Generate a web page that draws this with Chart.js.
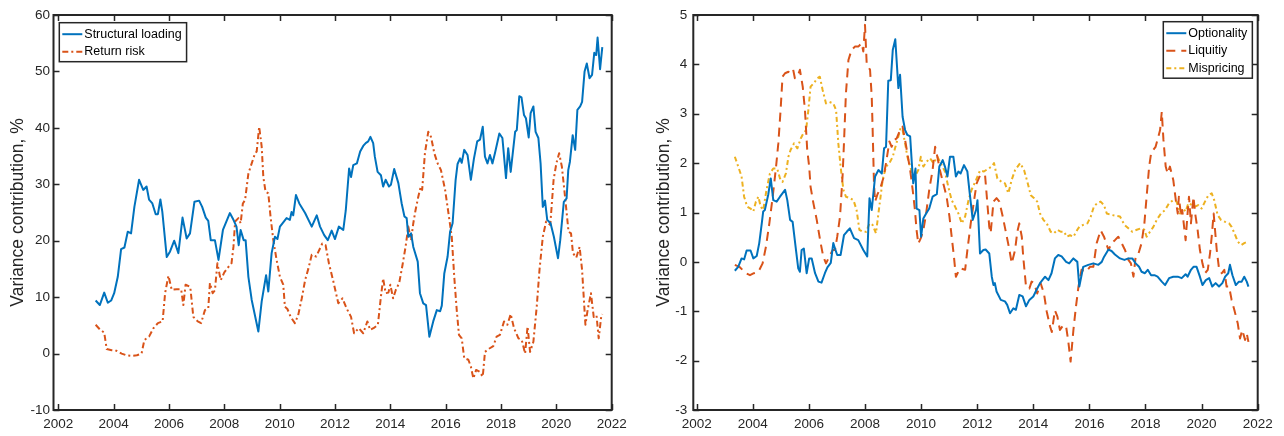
<!DOCTYPE html>
<html>
<head>
<meta charset="utf-8">
<script src="https://cdn.jsdelivr.net/npm/chart.js@4.4.0/dist/chart.umd.min.js"></script>
<style>
  body { margin: 0; background: #fff; }
  #wrap { position: relative; width: 1284px; height: 436px; background: #fff; }
  canvas { position: absolute; top: 0; }
</style>
</head>
<body>
<div id="wrap">
  <canvas id="left" width="642" height="436" style="left:0"></canvas>
  <canvas id="right" width="642" height="436" style="left:642px"></canvas>
</div>
<script>
// tick labels
var xTickLabels = [2002, 2004, 2006, 2008, 2010, 2012, 2014, 2016, 2018, 2020, 2022];
var leftYTicks = [-10, 0, 10, 20, 30, 40, 50, 60];
var rightYTicks = [-3, -2, -1, 0, 1, 2, 3, 4, 5];

// left panel: Structural loading
var slDates = [
  2003.35,2003.50,2003.66,2003.79,2003.91,2004.02,2004.15,2004.27,2004.39,2004.51,
  2004.63,2004.75,2004.92,2005.07,2005.19,2005.28,2005.40,2005.52,2005.60,2005.69,
  2005.76,2005.92,2006.04,2006.19,2006.34,2006.49,2006.64,2006.76,2006.92,2007.09,
  2007.20,2007.33,2007.42,2007.51,2007.66,2007.79,2007.95,2008.20,2008.33,2008.44,
  2008.52,2008.59,2008.70,2008.77,2008.87,2008.99,2009.23,2009.35,2009.51,2009.59,
  2009.71,2009.83,2009.92,2010.01,2010.25,2010.37,2010.43,2010.49,2010.59,2010.71,
  2010.92,2011.16,2011.34,2011.46,2011.61,2011.74,2011.88,2012.00,2012.14,2012.30,
  2012.39,2012.51,2012.58,2012.66,2012.79,2012.91,2013.02,2013.11,2013.20,2013.28,
  2013.38,2013.44,2013.54,2013.66,2013.74,2013.83,2013.95,2014.02,2014.14,2014.29,
  2014.41,2014.51,2014.59,2014.65,2014.75,2014.83,2014.99,2015.07,2015.19,2015.29,
  2015.41,2015.55,2015.68,2015.80,2015.86,2015.95,2016.07,2016.16,2016.25,2016.36,
  2016.43,2016.52,2016.58,2016.67,2016.79,2016.91,2017.02,2017.14,2017.24,2017.34,
  2017.42,2017.51,2017.60,2017.69,2017.78,2017.94,2018.05,2018.18,2018.26,2018.35,
  2018.51,2018.57,2018.66,2018.74,2018.83,2018.90,2019.00,2019.07,2019.17,2019.25,
  2019.35,2019.43,2019.51,2019.59,2019.67,2019.79,2019.91,2020.06,2020.14,2020.27,
  2020.37,2020.43,2020.49,2020.59,2020.68,2020.76,2020.86,2020.93,2021.02,2021.10,
  2021.20,2021.29,2021.37,2021.44,2021.49,2021.58,2021.66];
var slValues = [
  9.4,8.6,10.8,9.0,9.4,10.7,13.6,18.5,18.8,21.6,
  21.3,26.0,30.8,29.0,29.6,27.3,26.6,24.7,24.7,27.3,
  25.1,17.1,18.1,20.0,17.8,24.1,20.4,21.3,26.9,27.1,
  26.0,24.1,23.5,20.1,20.1,16.6,21.9,24.9,23.7,22.5,
  19.2,21.9,20.1,20.1,13.6,9.5,3.9,9.2,13.9,11.0,
  17.8,20.7,20.3,22.5,24.0,23.7,25.1,24.5,28.1,26.6,
  24.9,22.5,24.5,22.5,21.0,20.1,21.8,20.3,22.5,21.9,
  25.4,32.8,31.3,33.4,33.7,35.8,36.8,37.3,37.6,38.4,
  37.3,34.9,32.2,31.6,29.6,30.8,29.6,29.9,32.7,30.2,
  26.6,24.3,24.0,20.7,21.3,18.9,16.3,10.7,8.9,8.6,
  3.0,5.7,7.7,7.5,8.5,14.2,17.2,21.6,23.1,30.8,
  33.6,34.6,33.8,36.1,35.2,30.8,34.5,37.6,37.9,40.2,
  34.9,33.7,35.2,33.7,35.5,39.0,38.2,31.1,36.4,32.2,
  39.3,39.6,45.6,45.4,42.3,41.7,38.3,42.6,43.8,39.3,
  38.2,33.7,26.0,27.1,23.7,23.1,20.7,16.9,20.1,26.9,
  27.5,32.5,34.0,38.7,36.1,43.2,43.8,44.6,50.0,51.4,
  48.8,49.4,53.3,52.9,56.0,50.4,54.3];

// left panel: Return risk
var rrDates = [
  2003.35,2003.50,2003.66,2003.75,2003.93,2004.10,2004.29,2004.46,2004.65,2004.84,
  2005.01,2005.11,2005.28,2005.44,2005.60,2005.77,2005.86,2005.98,2006.10,2006.28,
  2006.44,2006.52,2006.60,2006.77,2006.88,2007.04,2007.16,2007.30,2007.42,2007.48,
  2007.58,2007.66,2007.75,2007.87,2008.00,2008.14,2008.26,2008.33,2008.39,2008.51,
  2008.59,2008.67,2008.75,2008.87,2008.99,2009.11,2009.17,2009.26,2009.35,2009.41,
  2009.49,2009.59,2009.67,2009.77,2009.89,2010.01,2010.13,2010.19,2010.28,2010.40,
  2010.55,2010.67,2010.80,2010.92,2011.04,2011.16,2011.32,2011.54,2011.66,2011.78,
  2011.94,2012.12,2012.27,2012.42,2012.58,2012.69,2012.86,2013.02,2013.17,2013.27,
  2013.39,2013.55,2013.66,2013.74,2013.83,2013.93,2014.00,2014.10,2014.20,2014.32,
  2014.44,2014.55,2014.65,2014.75,2014.83,2014.91,2015.01,2015.10,2015.15,2015.25,
  2015.37,2015.47,2015.59,2015.71,2015.83,2015.98,2016.10,2016.22,2016.31,2016.40,
  2016.48,2016.58,2016.67,2016.82,2016.91,2017.00,2017.10,2017.22,2017.34,2017.42,
  2017.58,2017.72,2017.84,2017.96,2018.11,2018.23,2018.35,2018.47,2018.63,2018.75,
  2018.87,2018.96,2019.05,2019.17,2019.29,2019.39,2019.51,2019.63,2019.78,2019.90,
  2020.00,2020.10,2020.20,2020.32,2020.44,2020.53,2020.60,2020.72,2020.84,2020.93,
  2021.05,2021.13,2021.25,2021.35,2021.45,2021.53,2021.62,2021.66];
var rrValues = [
  5.1,4.3,3.7,0.8,0.6,0.5,0.0,-0.3,-0.4,-0.3,
  0.0,2.4,3.0,4.5,5.4,5.7,10.7,13.8,11.3,11.4,
  11.4,8.6,12.2,11.8,6.5,5.7,5.4,7.7,8.0,12.5,
  10.7,11.2,16.0,13.0,14.4,15.3,16.0,18.9,23.4,24.0,
  23.1,26.6,27.2,31.9,33.7,35.5,35.8,40.2,36.7,31.3,
  28.7,28.4,24.3,20.1,16.6,13.6,12.2,8.3,7.9,6.5,
  5.4,6.8,9.8,13.0,15.1,17.5,17.2,19.5,19.2,16.0,
  12.8,8.9,9.8,8.0,6.5,3.6,4.5,3.6,5.7,4.2,
  4.5,5.1,10.1,13.3,10.7,10.8,12.2,9.8,11.3,12.5,
  15.7,18.9,22.5,20.1,23.1,25.4,27.8,29.6,29.0,35.5,
  39.3,38.4,35.5,33.7,32.5,29.0,24.9,20.7,13.6,7.7,
  3.3,2.7,-0.8,-1.1,-2.3,-4.4,-2.9,-3.2,-4.1,0.3,
  0.9,1.3,3.0,3.3,5.7,5.1,7.0,4.5,2.7,2.4,
  0.0,4.8,0.3,2.1,8.3,14.8,20.7,23.4,22.8,30.8,
  33.7,35.5,33.1,27.5,21.6,21.3,17.8,17.0,18.9,14.8,
  5.1,7.7,10.7,6.5,6.8,2.7,6.5,7.0];

// right panel: Optionality
var opDates = [
  2003.36,2003.48,2003.60,2003.69,2003.78,2003.92,2004.02,2004.14,2004.23,2004.32,
  2004.37,2004.43,2004.55,2004.64,2004.73,2004.85,2004.97,2005.15,2005.23,2005.33,
  2005.42,2005.54,2005.62,2005.68,2005.74,2005.82,2005.92,2006.01,2006.10,2006.22,
  2006.34,2006.45,2006.57,2006.66,2006.78,2006.87,2006.93,2007.01,2007.13,2007.25,
  2007.35,2007.46,2007.61,2007.76,2007.94,2008.08,2008.16,2008.24,2008.36,2008.48,
  2008.60,2008.68,2008.75,2008.83,2008.92,2008.99,2009.08,2009.19,2009.25,2009.34,
  2009.43,2009.51,2009.61,2009.67,2009.72,2009.80,2009.84,2009.94,2010.00,2010.08,
  2010.18,2010.29,2010.41,2010.56,2010.65,2010.77,2010.85,2010.94,2011.03,2011.15,
  2011.24,2011.33,2011.41,2011.53,2011.65,2011.72,2011.84,2011.96,2012.01,2012.10,
  2012.22,2012.30,2012.43,2012.52,2012.58,2012.63,2012.69,2012.84,2012.99,2013.07,
  2013.17,2013.29,2013.38,2013.50,2013.62,2013.74,2013.86,2014.00,2014.14,2014.24,
  2014.42,2014.54,2014.65,2014.77,2014.89,2015.01,2015.17,2015.28,2015.43,2015.57,
  2015.64,2015.78,2015.96,2016.14,2016.32,2016.44,2016.52,2016.68,2016.79,2016.91,
  2017.09,2017.25,2017.39,2017.53,2017.65,2017.77,2017.86,2017.98,2018.08,2018.20,
  2018.32,2018.43,2018.58,2018.70,2018.84,2018.99,2019.15,2019.29,2019.43,2019.50,
  2019.62,2019.71,2019.82,2019.94,2020.03,2020.15,2020.27,2020.38,2020.50,2020.62,
  2020.74,2020.84,2020.95,2021.01,2021.10,2021.22,2021.33,2021.43,2021.52,2021.61,
  2021.67];
var opValues = [
  -0.18,-0.10,0.07,0.05,0.23,0.23,0.07,0.12,0.38,0.78,
  1.02,1.05,1.36,1.69,1.25,1.22,1.32,1.46,1.25,0.85,
  0.81,0.24,-0.13,-0.20,0.24,0.27,-0.23,0.07,0.07,-0.23,
  -0.40,-0.42,-0.23,-0.11,-0.02,0.38,0.27,0.14,0.14,0.54,
  0.61,0.68,0.48,0.44,0.24,0.11,1.29,1.05,1.73,1.86,
  1.79,2.30,2.33,3.67,3.68,4.29,4.51,3.52,3.79,2.94,
  2.67,2.57,2.54,2.00,1.59,1.89,1.08,1.05,0.51,0.88,
  0.98,1.08,1.32,1.37,1.93,2.06,1.93,1.73,2.13,2.13,
  1.73,1.83,1.79,1.96,1.83,1.46,0.85,1.05,1.25,0.17,
  0.24,0.25,0.17,-0.30,-0.47,-0.43,-0.60,-0.77,-0.80,-0.87,
  -1.04,-0.94,-0.97,-0.67,-0.70,-0.90,-0.77,-0.70,-0.54,-0.43,
  -0.30,-0.37,-0.23,0.07,0.14,0.11,0.00,-0.03,0.07,0.00,
  -0.50,-0.10,-0.06,-0.03,-0.06,0.00,0.10,0.25,0.22,0.15,
  0.07,0.04,0.07,0.07,-0.03,-0.10,-0.20,-0.23,-0.16,-0.27,
  -0.27,-0.30,-0.40,-0.47,-0.33,-0.30,-0.30,-0.33,-0.25,-0.30,
  -0.16,-0.10,-0.10,-0.30,-0.47,-0.37,-0.33,-0.50,-0.43,-0.50,
  -0.43,-0.30,-0.23,-0.06,-0.27,-0.47,-0.40,-0.40,-0.30,-0.40,
  -0.50];

// right panel: Liquitiy
var lqDates = [
  2003.36,2003.52,2003.76,2003.90,2004.04,2004.20,2004.35,2004.47,2004.59,2004.71,
  2004.83,2004.91,2004.99,2005.06,2005.15,2005.27,2005.35,2005.44,2005.50,2005.59,
  2005.68,2005.78,2005.86,2005.94,2006.01,2006.06,2006.16,2006.28,2006.40,2006.51,
  2006.61,2006.73,2006.85,2006.93,2007.01,2007.11,2007.20,2007.25,2007.32,2007.41,
  2007.52,2007.64,2007.76,2007.88,2007.94,2008.00,2008.06,2008.12,2008.18,2008.24,
  2008.27,2008.30,2008.32,2008.36,2008.44,2008.56,2008.65,2008.75,2008.87,2008.95,
  2009.04,2009.13,2009.25,2009.34,2009.43,2009.51,2009.61,2009.70,2009.78,2009.84,
  2009.90,2009.99,2010.08,2010.18,2010.29,2010.41,2010.50,2010.58,2010.67,2010.79,
  2010.91,2011.01,2011.09,2011.17,2011.24,2011.39,2011.57,2011.65,2011.77,2011.89,
  2011.98,2012.10,2012.28,2012.43,2012.48,2012.58,2012.69,2012.79,2012.91,2013.03,
  2013.15,2013.23,2013.35,2013.43,2013.50,2013.59,2013.64,2013.74,2013.86,2013.94,
  2014.03,2014.14,2014.26,2014.38,2014.48,2014.60,2014.66,2014.77,2014.86,2014.95,
  2015.07,2015.17,2015.25,2015.33,2015.43,2015.52,2015.61,2015.72,2015.88,2016.02,
  2016.14,2016.26,2016.40,2016.52,2016.68,2016.79,2016.91,2017.03,2017.15,2017.27,
  2017.39,2017.48,2017.57,2017.65,2017.75,2017.86,2017.96,2018.04,2018.13,2018.20,
  2018.28,2018.36,2018.46,2018.52,2018.58,2018.64,2018.72,2018.79,2018.87,2018.99,
  2019.08,2019.15,2019.19,2019.27,2019.31,2019.39,2019.43,2019.50,2019.55,2019.62,
  2019.71,2019.77,2019.86,2019.94,2020.03,2020.12,2020.22,2020.30,2020.36,2020.43,
  2020.48,2020.54,2020.62,2020.72,2020.81,2020.89,2020.98,2021.07,2021.17,2021.29,
  2021.37,2021.45,2021.55,2021.61,2021.67];
var lqValues = [
  -0.06,-0.10,-0.23,-0.27,-0.23,-0.20,-0.03,0.31,0.78,1.32,
  1.93,2.40,3.07,3.75,3.82,3.85,3.82,3.89,3.72,3.75,
  3.89,3.55,3.07,2.27,1.93,1.52,1.19,0.85,0.44,0.11,
  -0.03,0.11,0.24,0.24,0.51,0.92,1.73,2.40,3.41,4.09,
  4.29,4.36,4.36,4.43,4.26,4.80,4.02,3.95,3.89,3.35,
  2.74,2.06,1.59,1.22,1.36,1.52,1.69,2.00,2.44,2.33,
  2.47,2.50,2.67,2.74,2.47,2.20,1.86,1.46,1.05,0.64,
  0.37,0.48,0.64,0.98,1.46,1.86,2.33,2.13,1.86,1.59,
  1.32,0.92,0.51,0.11,-0.30,-0.13,-0.16,0.24,0.78,1.25,
  1.59,1.75,1.76,0.71,0.58,1.22,1.29,1.22,0.92,0.58,
  0.24,-0.03,0.24,0.61,0.78,0.51,0.11,-0.50,-0.54,-0.40,
  -0.43,-0.64,-0.43,-0.64,-1.01,-1.31,-1.42,-0.98,-1.11,-1.38,
  -1.28,-1.31,-1.62,-2.02,-1.38,-0.91,-0.50,-0.16,-0.20,-0.10,
  -0.10,0.38,0.64,0.51,0.24,0.38,0.44,0.51,0.38,0.24,
  0.04,-0.03,-0.30,0.11,0.17,0.38,0.78,1.32,1.93,2.20,
  2.27,2.33,2.54,2.67,3.04,2.47,1.93,1.79,1.93,1.66,
  1.25,0.98,1.32,0.92,1.05,0.64,0.44,0.98,1.32,0.78,
  1.32,0.98,0.64,0.24,-0.03,-0.23,-0.16,0.17,0.51,0.98,
  0.64,0.24,-0.13,-0.23,-0.16,-0.50,-0.50,-0.77,-0.98,-1.25,
  -1.55,-1.38,-1.58,-1.45,-1.62];

// right panel: Mispricing
var mpDates = [
  2003.36,2003.48,2003.60,2003.69,2003.80,2003.92,2004.02,2004.11,2004.20,2004.28,
  2004.37,2004.49,2004.61,2004.73,2004.87,2004.97,2005.06,2005.18,2005.27,2005.35,
  2005.47,2005.59,2005.71,2005.80,2005.90,2005.98,2006.06,2006.18,2006.30,2006.39,
  2006.49,2006.61,2006.73,2006.87,2006.97,2007.05,2007.13,2007.23,2007.32,2007.46,
  2007.59,2007.70,2007.80,2007.92,2008.04,2008.16,2008.27,2008.39,2008.51,2008.63,
  2008.75,2008.87,2008.99,2009.07,2009.19,2009.27,2009.34,2009.43,2009.51,2009.61,
  2009.70,2009.78,2009.90,2009.99,2010.08,2010.20,2010.32,2010.44,2010.58,2010.70,
  2010.85,2010.97,2011.09,2011.21,2011.33,2011.45,2011.57,2011.69,2011.80,2011.96,
  2012.10,2012.24,2012.40,2012.52,2012.60,2012.72,2012.87,2012.99,2013.11,2013.23,
  2013.35,2013.53,2013.67,2013.79,2013.91,2014.03,2014.14,2014.24,2014.36,2014.48,
  2014.62,2014.74,2014.86,2014.98,2015.10,2015.19,2015.31,2015.43,2015.57,2015.64,
  2015.78,2015.93,2016.05,2016.16,2016.28,2016.40,2016.52,2016.62,2016.79,2016.97,
  2017.09,2017.25,2017.39,2017.53,2017.69,2017.84,2017.96,2018.04,2018.16,2018.28,
  2018.40,2018.55,2018.70,2018.84,2018.99,2019.11,2019.23,2019.35,2019.43,2019.53,
  2019.65,2019.77,2019.88,2020.00,2020.12,2020.24,2020.36,2020.45,2020.57,2020.69,
  2020.84,2020.98,2021.07,2021.17,2021.29,2021.41,2021.52,2021.64];
var mpValues = [
  2.13,1.93,1.73,1.32,1.12,1.08,1.02,1.22,1.32,1.12,
  1.05,1.46,1.79,1.89,1.89,1.69,1.62,1.79,2.13,2.27,
  2.40,2.30,2.50,2.60,2.67,3.07,3.55,3.62,3.72,3.75,
  3.48,3.21,3.24,3.21,3.07,2.40,1.93,1.46,1.32,1.29,
  1.25,1.05,0.65,0.61,0.61,0.78,0.75,0.58,1.12,1.66,
  1.93,2.00,2.13,2.30,2.54,2.71,2.67,2.40,2.13,1.93,
  1.76,1.73,1.86,2.13,1.93,2.03,2.10,2.00,2.13,2.00,
  1.83,1.52,1.25,1.12,0.98,0.78,0.92,1.25,1.46,1.66,
  1.85,1.83,1.89,1.93,2.00,1.69,1.62,1.59,1.39,1.66,
  1.86,2.00,1.86,1.62,1.35,1.29,1.22,0.98,0.85,0.78,
  0.61,0.58,0.65,0.61,0.61,0.51,0.54,0.51,0.65,0.71,
  0.75,0.78,0.92,1.12,1.19,1.22,1.15,0.98,0.95,0.93,
  0.92,0.75,0.68,0.61,0.65,0.68,0.65,0.51,0.61,0.71,
  0.85,0.98,1.05,1.19,1.25,1.22,0.98,1.08,1.02,1.19,
  1.15,1.12,1.15,1.08,1.22,1.35,1.39,1.25,0.95,0.85,
  0.81,0.78,0.71,0.58,0.41,0.34,0.38,0.41];

var BLUE = '#0072BD', RED = '#D95319', YELLOW = '#EDB120', AXIS = '#262626';
var FONT = "'Liberation Sans', Arial, Helvetica, sans-serif";

function pts(d, v) {
  return d.map(function (x, i) { return { x: x, y: v[i] }; });
}

function line(label, d, v, color, dash) {
  return {
    label: label, data: pts(d, v),
    borderColor: color, backgroundColor: color,
    borderWidth: 2, borderDash: dash, pointRadius: 0,
    tension: 0, fill: false, borderJoinStyle: 'round'
  };
}

// box, inward ticks and a MATLAB-like legend
function frame(legendLeft, legendTop) {
  return {
    id: 'frame',
    afterDraw: function (chart) {
      var ctx = chart.ctx, a = chart.chartArea, x = chart.scales.x, y = chart.scales.y;
      ctx.save();
      ctx.strokeStyle = AXIS;
      ctx.lineWidth = 1.5;
      ctx.beginPath();
      x.ticks.forEach(function (t) {
        var p = Math.round(x.getPixelForValue(t.value)) + 0.5;
        ctx.moveTo(p, a.bottom); ctx.lineTo(p, a.bottom - 6);
        ctx.moveTo(p, a.top); ctx.lineTo(p, a.top + 6);
      });
      y.ticks.forEach(function (t) {
        var p = Math.round(y.getPixelForValue(t.value)) + 0.5;
        ctx.moveTo(a.left, p); ctx.lineTo(a.left + 6, p);
        ctx.moveTo(a.right, p); ctx.lineTo(a.right - 6, p);
      });
      ctx.stroke();
      ctx.lineWidth = 2;
      ctx.strokeRect(a.left, a.top, a.right - a.left, a.bottom - a.top);

      // legend
      var ds = chart.data.datasets;
      ctx.font = '12.5px ' + FONT;
      var tw = 0;
      ds.forEach(function (d) { tw = Math.max(tw, ctx.measureText(d.label).width); });
      var rowH = 17.5, w = 25 + tw + 5, h = ds.length * rowH + 4;
      ctx.fillStyle = '#fff';
      ctx.fillRect(legendLeft, legendTop, w, h);
      ctx.lineWidth = 1.5;
      ctx.strokeStyle = AXIS;
      ctx.strokeRect(legendLeft, legendTop, w, h);
      ds.forEach(function (d, i) {
        var cy = legendTop + 11.5 + i * rowH;
        ctx.beginPath();
        ctx.strokeStyle = d.borderColor;
        ctx.lineWidth = 2;
        ctx.setLineDash(d.borderDash || []);
        ctx.moveTo(legendLeft + 3, cy); ctx.lineTo(legendLeft + 23, cy);
        ctx.stroke();
        ctx.setLineDash([]);
        ctx.fillStyle = '#000';
        ctx.textBaseline = 'middle';
        ctx.fillText(d.label, legendLeft + 25, cy);
      });
      ctx.restore();
    }
  };
}

function makeChart(id, datasets, opt) {
  return new Chart(document.getElementById(id), {
    type: 'line',
    data: { datasets: datasets },
    options: {
      responsive: false, animation: false, devicePixelRatio: 1,
      layout: { padding: { left: 0, right: opt.padRight, top: 15, bottom: 0 } },
      plugins: { legend: { display: false }, tooltip: { enabled: false } },
      scales: {
        x: {
          type: 'linear', min: opt.xMin, max: 2022,
          grid: { display: false, drawTicks: false }, border: { display: false },
          afterBuildTicks: function (s) { s.ticks = xTickLabels.map(function (v) { return { value: v }; }); },
          afterFit: function (s) { s.height = 26; },
          ticks: {
            autoSkip: false, maxRotation: 0, padding: 6, color: AXIS,
            font: { family: FONT, size: 13.5 },
            callback: function (v) { return String(v); }
          }
        },
        y: {
          min: opt.yTicks[0], max: opt.yTicks[opt.yTicks.length - 1],
          grid: { display: false, drawTicks: false }, border: { display: false },
          afterBuildTicks: function (s) { s.ticks = opt.yTicks.map(function (v) { return { value: v }; }); },
          afterFit: function (s) { s.width = opt.yWidth; },
          ticks: {
            autoSkip: false, padding: opt.yPad, color: AXIS,
            font: { family: FONT, size: 13.5 },
            callback: function (v) { return String(v); }
          },
          title: {
            display: true, text: 'Variance contribution, %', color: AXIS,
            font: { family: FONT, size: 17.5, lineHeight: 1.2 },
            padding: { top: opt.titlePad, bottom: 0 }
          }
        }
      }
    },
    plugins: [frame(opt.legendLeft, opt.legendTop)]
  });
}

makeChart('left', [
  line('Structural loading', slDates, slValues, BLUE, []),
  line('Return risk', rrDates, rrValues, RED, [6, 3, 2, 3])
], { xMin: 2001.827, yTicks: leftYTicks, yWidth: 53.5, yPad: 3.5, padRight: 30.3,
     titlePad: 8, legendLeft: 59.3, legendTop: 22.7 });

makeChart('right', [
  line('Optionality', opDates, opValues, BLUE, []),
  line('Liquitiy', lqDates, lqValues, RED, [9, 6]),
  line('Mispricing', mpDates, mpValues, YELLOW, [5, 3, 2, 3])
], { xMin: 2001.879, yTicks: rightYTicks, yWidth: 51.3, yPad: 6, padRight: 26.3,
     titlePad: 11.5, legendLeft: 521.3, legendTop: 21.7 });
</script>
</body>
</html>
